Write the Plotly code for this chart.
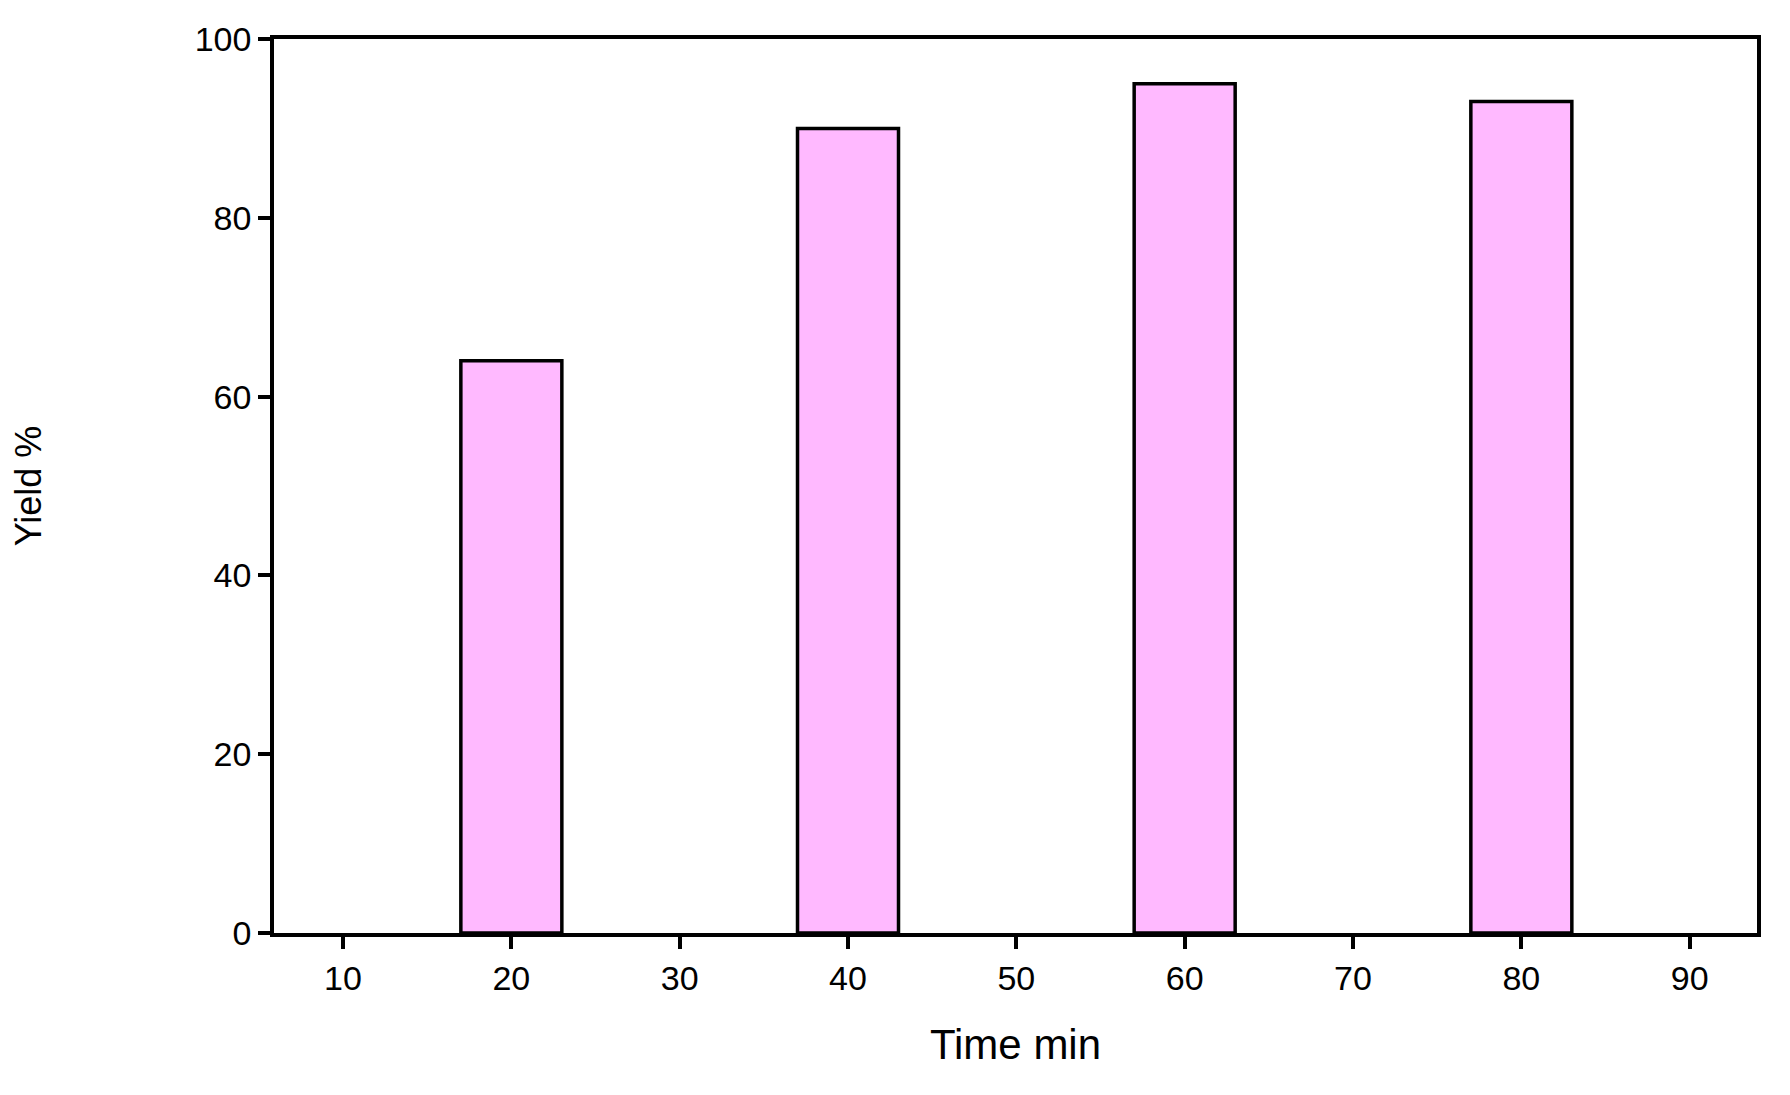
import plotly.graph_objects as go

# Reaction time vs yield
time_min = [20, 40, 60, 80]
yield_pct = [64, 90, 95, 93]

fig = go.Figure()

fig.add_trace(go.Bar(
    x=time_min,
    y=yield_pct,
    width=6,
    marker=dict(color="#FFB9FF", line=dict(color="black", width=3.5)),
))

axis_common = dict(
    showgrid=False,
    zeroline=False,
    showline=True,
    linecolor="black",
    linewidth=3.5,
    mirror=True,
    ticks="outside",
    ticklen=12,
    tickwidth=3.5,
    tickcolor="black",
    tickfont=dict(family="Liberation Sans, Arial", size=34, color="black"),
)

fig.update_layout(
    width=1790,
    height=1095,
    margin=dict(l=259, r=41, t=30, b=170),
    plot_bgcolor="white",
    paper_bgcolor="white",
    showlegend=False,
    xaxis=dict(
        axis_common,
        range=[5.9, 94],
        tickvals=[10, 20, 30, 40, 50, 60, 70, 80, 90],
        title=dict(text="Time min", font=dict(family="Liberation Sans, Arial", size=42, color="black"), standoff=35),
    ),
    yaxis=dict(
        axis_common,
        range=[0, 100],
        tickvals=[0, 20, 40, 60, 80, 100],
        title=dict(text="Yield %", font=dict(family="Liberation Sans, Arial", size=36, color="black"), standoff=150),
    ),
)

fig.write_html("out.html")
